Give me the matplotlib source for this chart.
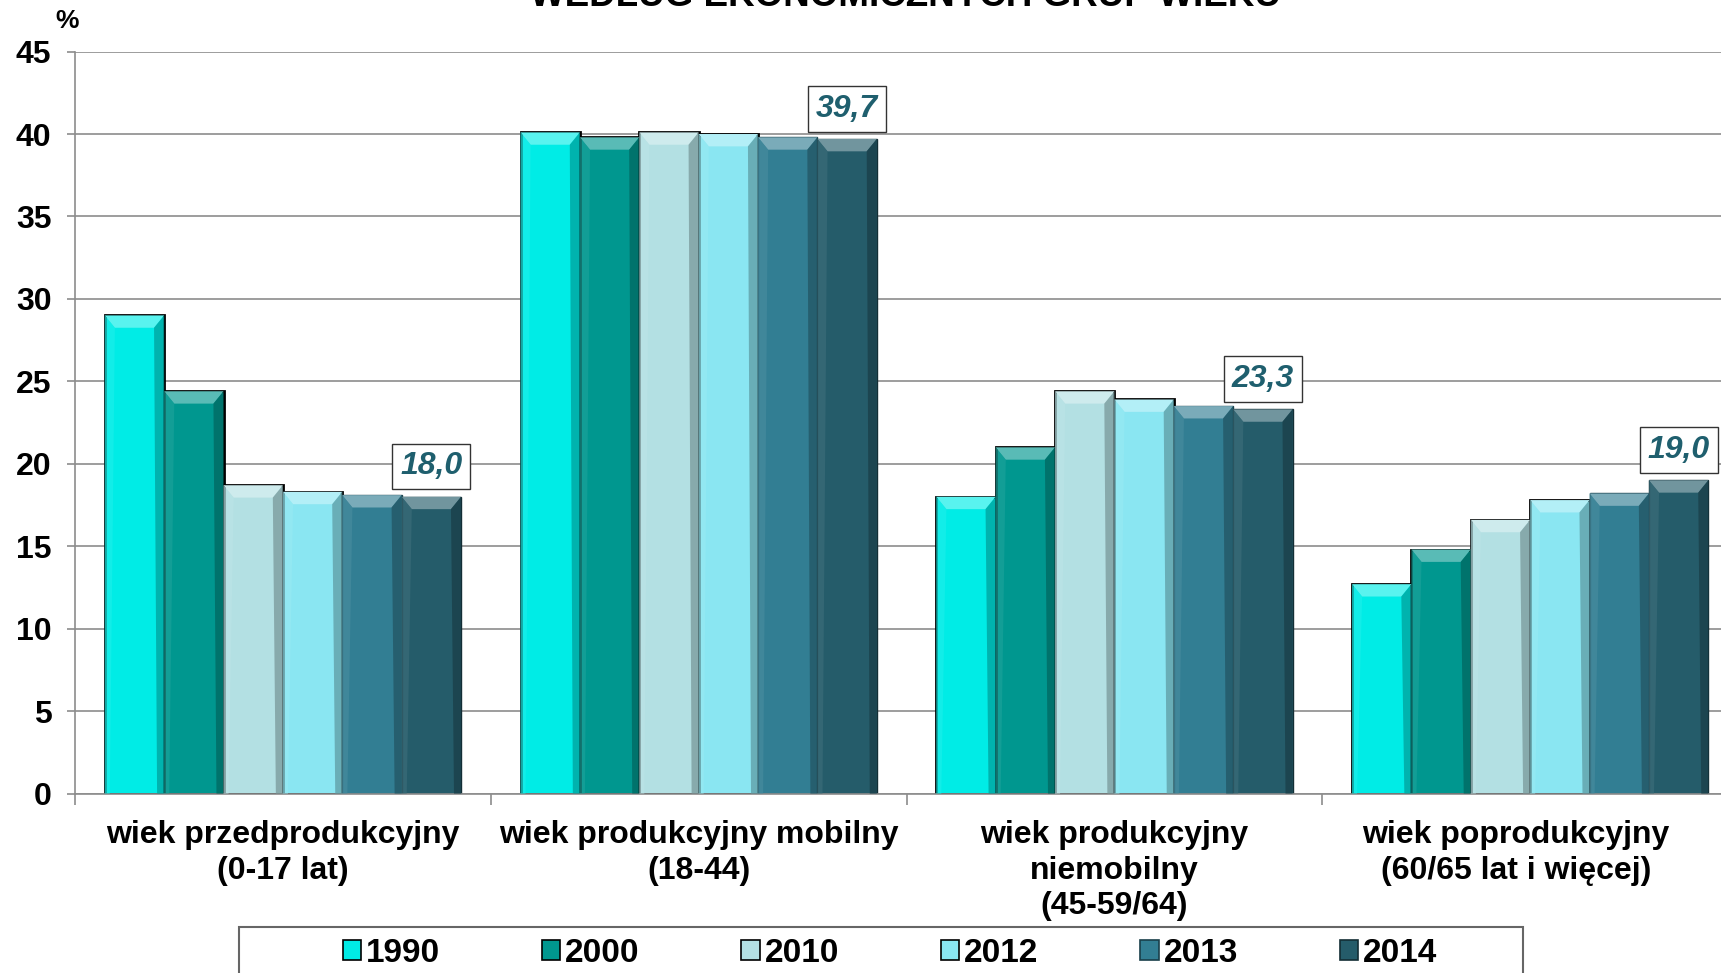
import numpy as np
import matplotlib
matplotlib.use("Agg")
import matplotlib.pyplot as plt
import matplotlib.transforms as mtransforms
from matplotlib.patches import Patch, Polygon, Rectangle
from matplotlib.colors import to_rgb

plt.rcParams['font.family'] = ['Liberation Sans', 'DejaVu Sans']
plt.rcParams['font.weight'] = 'bold'

# data
categories = [
    "wiek przedprodukcyjny\n(0-17 lat)",
    "wiek produkcyjny mobilny\n(18-44)",
    "wiek produkcyjny\nniemobilny\n(45-59/64)",
    "wiek poprodukcyjny\n(60/65 lat i więcej)",
]
years = ["1990", "2000", "2010", "2012", "2013", "2014"]
v1990 = [29.0, 40.1, 18.0, 12.7]
v2000 = [24.4, 39.8, 21.0, 14.8]
v2010 = [18.7, 40.1, 24.4, 16.6]
v2012 = [18.3, 40.0, 23.9, 17.8]
v2013 = [18.1, 39.8, 23.5, 18.2]
v2014 = [18.0, 39.7, 23.3, 19.0]
series = [v1990, v2000, v2010, v2012, v2013, v2014]
labels_2014 = ["18,0", "39,7", "23,3", "19,0"]

colors = ["#00ECE6", "#00978F", "#B3E0E3", "#8AE6F2", "#327E93", "#255C6A"]
label_color = "#1F5F6E"


def mix(c, other, t):
    c = np.array(to_rgb(c))
    return tuple(c * (1 - t) + np.array(other) * t)


def add_bevel(ax, rect, color):
    # light top edge + shaded sides, sized from the bar itself
    x, w, h = rect.get_x(), rect.get_width(), rect.get_height()
    bx = w * 0.17
    by = 0.75
    top = Polygon([(x, h), (x + w, h), (x + w - bx, h - by), (x + bx, h - by)],
                  closed=True, facecolor=mix(color, (1, 1, 1), 0.35),
                  edgecolor='none', zorder=3)
    right = Polygon([(x + w, h), (x + w, 0), (x + w - bx * 0.7, 0), (x + w - bx, h - by)],
                    closed=True, facecolor=mix(color, (0, 0, 0), 0.3),
                    edgecolor='none', zorder=3, alpha=0.8)
    left = Polygon([(x, h), (x, 0), (x + bx * 0.5, 0), (x + bx, h - by)],
                   closed=True, facecolor=mix(color, (1, 1, 1), 0.1),
                   edgecolor='none', zorder=3, alpha=0.7)
    for p in (top, right, left):
        ax.add_patch(p)


fig = plt.figure(figsize=(17.21, 9.73), dpi=100)
ax = fig.add_axes([0.0436, 0.1844, 0.9564, 0.7626])

x = np.arange(len(categories))
n = len(series)
group_w = 0.857
bar_w = group_w / n

for i, (vals, col) in enumerate(zip(series, colors)):
    pos = x - group_w / 2 + bar_w * (i + 0.5)
    edge = 'black' if i < 4 else mix(col, (0, 0, 0), 0.5)
    lw = 2.0 if i < 4 else 1.0
    bars = ax.bar(pos, vals, width=bar_w, color=col, edgecolor=edge,
                  linewidth=lw, zorder=2)
    for r in bars:
        add_bevel(ax, r, col)
    if i == n - 1:
        for r, txt in zip(bars, labels_2014):
            ax.annotate(txt, (r.get_x() + r.get_width() / 2, r.get_height()),
                        xytext=(0, 11), textcoords='offset points',
                        ha='center', va='bottom', fontsize=23,
                        fontstyle='italic', fontweight='bold', color=label_color,
                        bbox=dict(boxstyle='square,pad=0.25', fc='white',
                                  ec='#333333', lw=1.0), zorder=5)

ax.set_ylim(0, 45)
ax.set_xlim(-0.4987, 3.459)
ax.set_yticks(np.arange(0, 46, 5))
ax.yaxis.grid(True, color='#8c8c8c', linewidth=1.2, zorder=0)
ax.set_axisbelow(True)

ax.set_xticks(x)
ax.set_xticklabels(categories, fontsize=23, fontweight='bold', linespacing=1.25)
ax.set_xticks(np.arange(-0.5, 3.5, 1.0), minor=True)
ax.tick_params(axis='x', which='major', length=0, pad=19)
ax.tick_params(axis='x', which='minor', length=8, color='#8c8c8c', width=1.2)
ax.tick_params(axis='y', length=6, color='#8c8c8c', width=1.2, pad=11,
               labelsize=23)
for lab in ax.get_yticklabels():
    lab.set_fontweight('bold')
# last category label sits a bit left of its group in the original
last = ax.get_xticklabels()[-1]
last.set_transform(last.get_transform() +
                   mtransforms.ScaledTranslation(-0.14, 0, fig.dpi_scale_trans))

for s in ['top', 'right']:
    ax.spines[s].set_visible(False)
ax.spines['left'].set_color('#8c8c8c')
ax.spines['bottom'].set_color('#8c8c8c')
ax.spines['left'].set_linewidth(1.2)
ax.spines['bottom'].set_linewidth(1.2)

fig.text(67 / 1721, 1 - 21 / 973, "%", ha='center', va='center',
         fontsize=19, fontweight='bold')
fig.text(905 / 1721, 1 - 6 / 973, "WEDŁUG EKONOMICZNYCH GRUP WIEKU",
         ha='center', va='baseline', fontsize=26.5, fontweight='bold')

# legend frame runs past the bottom edge, as in the original
fig.patches.append(Rectangle((239 / 1721, -0.05), 1284 / 1721, 0.05 + 46 / 973,
                             transform=fig.transFigure, facecolor='white',
                             edgecolor='#666666', linewidth=1.5, zorder=1))
handles = [Patch(facecolor=c, edgecolor='black' if i < 4 else mix(c, (0, 0, 0), 0.5),
                 linewidth=1.2) for i, c in enumerate(colors)]
leg = fig.legend(handles, years, loc='center',
                 bbox_to_anchor=(890 / 1721, 1 - 953 / 973), ncol=6,
                 frameon=False, fontsize=24,
                 handlelength=0.55, handleheight=0.55, handletextpad=0.15,
                 columnspacing=3.05, borderpad=0, borderaxespad=0)
for t in leg.get_texts():
    t.set_fontweight('bold')

fig.savefig("out.png", dpi=100)
